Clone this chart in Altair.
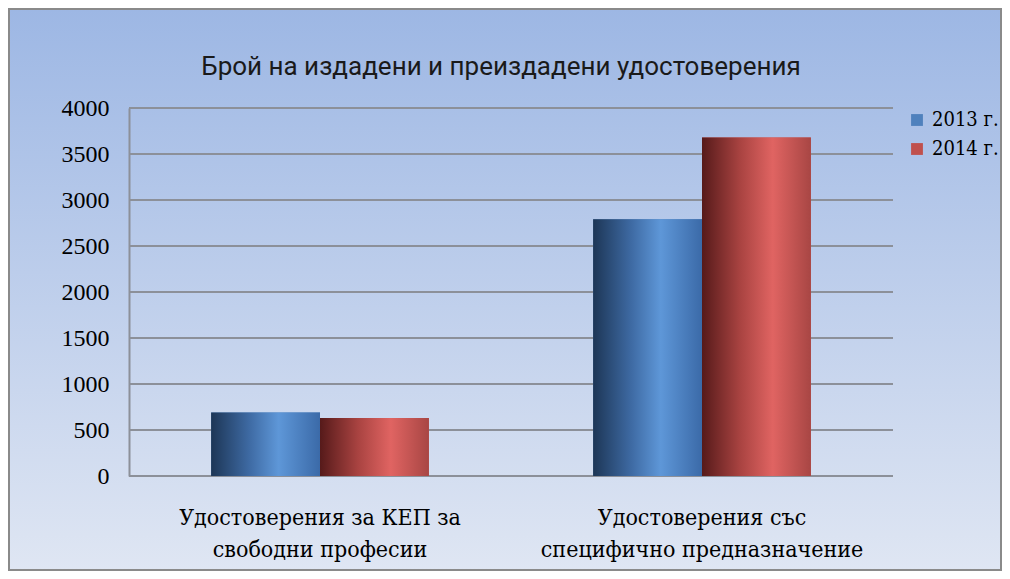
import altair as alt
import pandas as pd

title_text = "Брой на издадени и преиздадени удостоверения"
cat_lines = [["Удостоверения за КЕП за", "свободни професии"],
             ["Удостоверения със", "специфично предназначение"]]
categories = [" ".join(l) for l in cat_lines]
years = ["2013 г.", "2014 г."]
values_2013 = [690, 2790]
values_2014 = [630, 3680]
y_ticks = [0, 500, 1000, 1500, 2000, 2500, 3000, 3500, 4000]
colors = ["#4f81bd", "#c0504d"]

rows = []
for c, a, b in zip(categories, values_2013, values_2014):
    rows.append({"cat": c, "year": years[0], "value": a})
    rows.append({"cat": c, "year": years[1], "value": b})
df = pd.DataFrame(rows)
grid_df = pd.DataFrame({"v": y_ticks})
lab_df = pd.DataFrame({"cat": categories,
                       "l1": [l[0] for l in cat_lines],
                       "l2": [l[1] for l in cat_lines]})

W, H = 764, 368
PL, PT, PR, PB = 121, 100, 109, 95
SERIF = "Liberation Serif"
CYR_SERIF = "DejaVu Serif Condensed, DejaVu Serif, serif"

x_axis = alt.Axis(labels=False, ticks=False, domain=False)
x_enc = alt.X("cat:N", sort=categories, title=None,
              scale=alt.Scale(paddingInner=0.43, paddingOuter=0.215), axis=x_axis)
y_scale = alt.Scale(domain=[0, 4000], nice=False)
y_axis = alt.Axis(values=y_ticks, format="d", grid=False, ticks=False, labelPadding=20,
                  labelFont=SERIF, labelFontSize=24, labelColor="#000000",
                  domainColor="#8c9099", domainWidth=2, zindex=1)
y_enc = alt.Y("value:Q", scale=y_scale, title=None, axis=y_axis)
xoff = alt.XOffset("year:N", sort=years, scale=alt.Scale(paddingInner=0, paddingOuter=0))

bg = alt.Chart(alt.Data(values=[{}])).mark_rect(
    stroke="#8a8a8a", strokeWidth=2,
    fill=alt.Gradient(gradient="linear", x1=0, y1=0, x2=0, y2=1,
                      stops=[alt.GradientStop(color="#9db7e4", offset=0),
                             alt.GradientStop(color="#dfe6f3", offset=1)])
).encode(x=alt.value(-PL + 1), x2=alt.value(W + PR - 1),
         y=alt.value(-PT + 1), y2=alt.value(H + PB - 1))

title = alt.Chart(alt.Data(values=[{"t": title_text}])).mark_text(
    font="Liberation Sans Narrow, Roboto, sans-serif", fontSize=26, color="#1a1a1a",
    align="center", baseline="middle"
).encode(text="t:N", x=alt.value(372), y=alt.value(-41))

grid = alt.Chart(grid_df).mark_rule(color="#8c9099", strokeWidth=2).encode(
    y=alt.Y("v:Q", scale=y_scale, title=None, axis=y_axis),
    x=alt.value(0), x2=alt.value(W))

def lab_layer(field, ypos):
    return alt.Chart(lab_df).mark_text(
        font=CYR_SERIF, fontSize=23, color="#000000", align="center", baseline="middle"
    ).encode(x=x_enc, text=f"{field}:N", y=alt.value(ypos))

lab1 = lab_layer("l1", H + 42)
lab2 = lab_layer("l2", H + 74)

legend_bars = alt.Chart(df).mark_bar().encode(
    x=x_enc, y=y_enc, xOffset=xoff,
    color=alt.Color("year:N", sort=years,
                    scale=alt.Scale(domain=years, range=colors),
                    legend=alt.Legend(title=None, orient="none", legendX=W + 14, legendY=2,
                                      symbolType="square", symbolSize=140,
                                      symbolStrokeWidth=0, labelFont=CYR_SERIF,
                                      labelFontSize=20, labelColor="#000000",
                                      rowPadding=9, labelOffset=5, zindex=1)))

def grad_layer(year, stops):
    return alt.Chart(df).transform_filter(alt.datum.year == year).mark_bar(
        fill=alt.Gradient(gradient="linear", x1=0, y1=0, x2=1, y2=0,
                          stops=[alt.GradientStop(color=c, offset=o) for o, c in stops])
    ).encode(x=x_enc, y=y_enc, xOffset=xoff)

blue = grad_layer(years[0], [(0, "#1d3656"), (0.35, "#3e6aa3"), (0.62, "#5e97d8"), (1, "#3b6aa8")])
red = grad_layer(years[1], [(0, "#561a1a"), (0.35, "#a94341"), (0.65, "#e06462"), (1, "#a84644")])

chart = alt.layer(bg, title, grid, lab1, lab2, legend_bars, blue, red).properties(
    width=W, height=H,
    autosize=alt.AutoSizeParams(type="none"),
    padding={"left": PL, "top": PT, "right": PR, "bottom": PB},
).configure_view(stroke=None).configure(background="#dfe6f3")

chart.save("out.html", embed_options={"renderer": "svg", "actions": False})
